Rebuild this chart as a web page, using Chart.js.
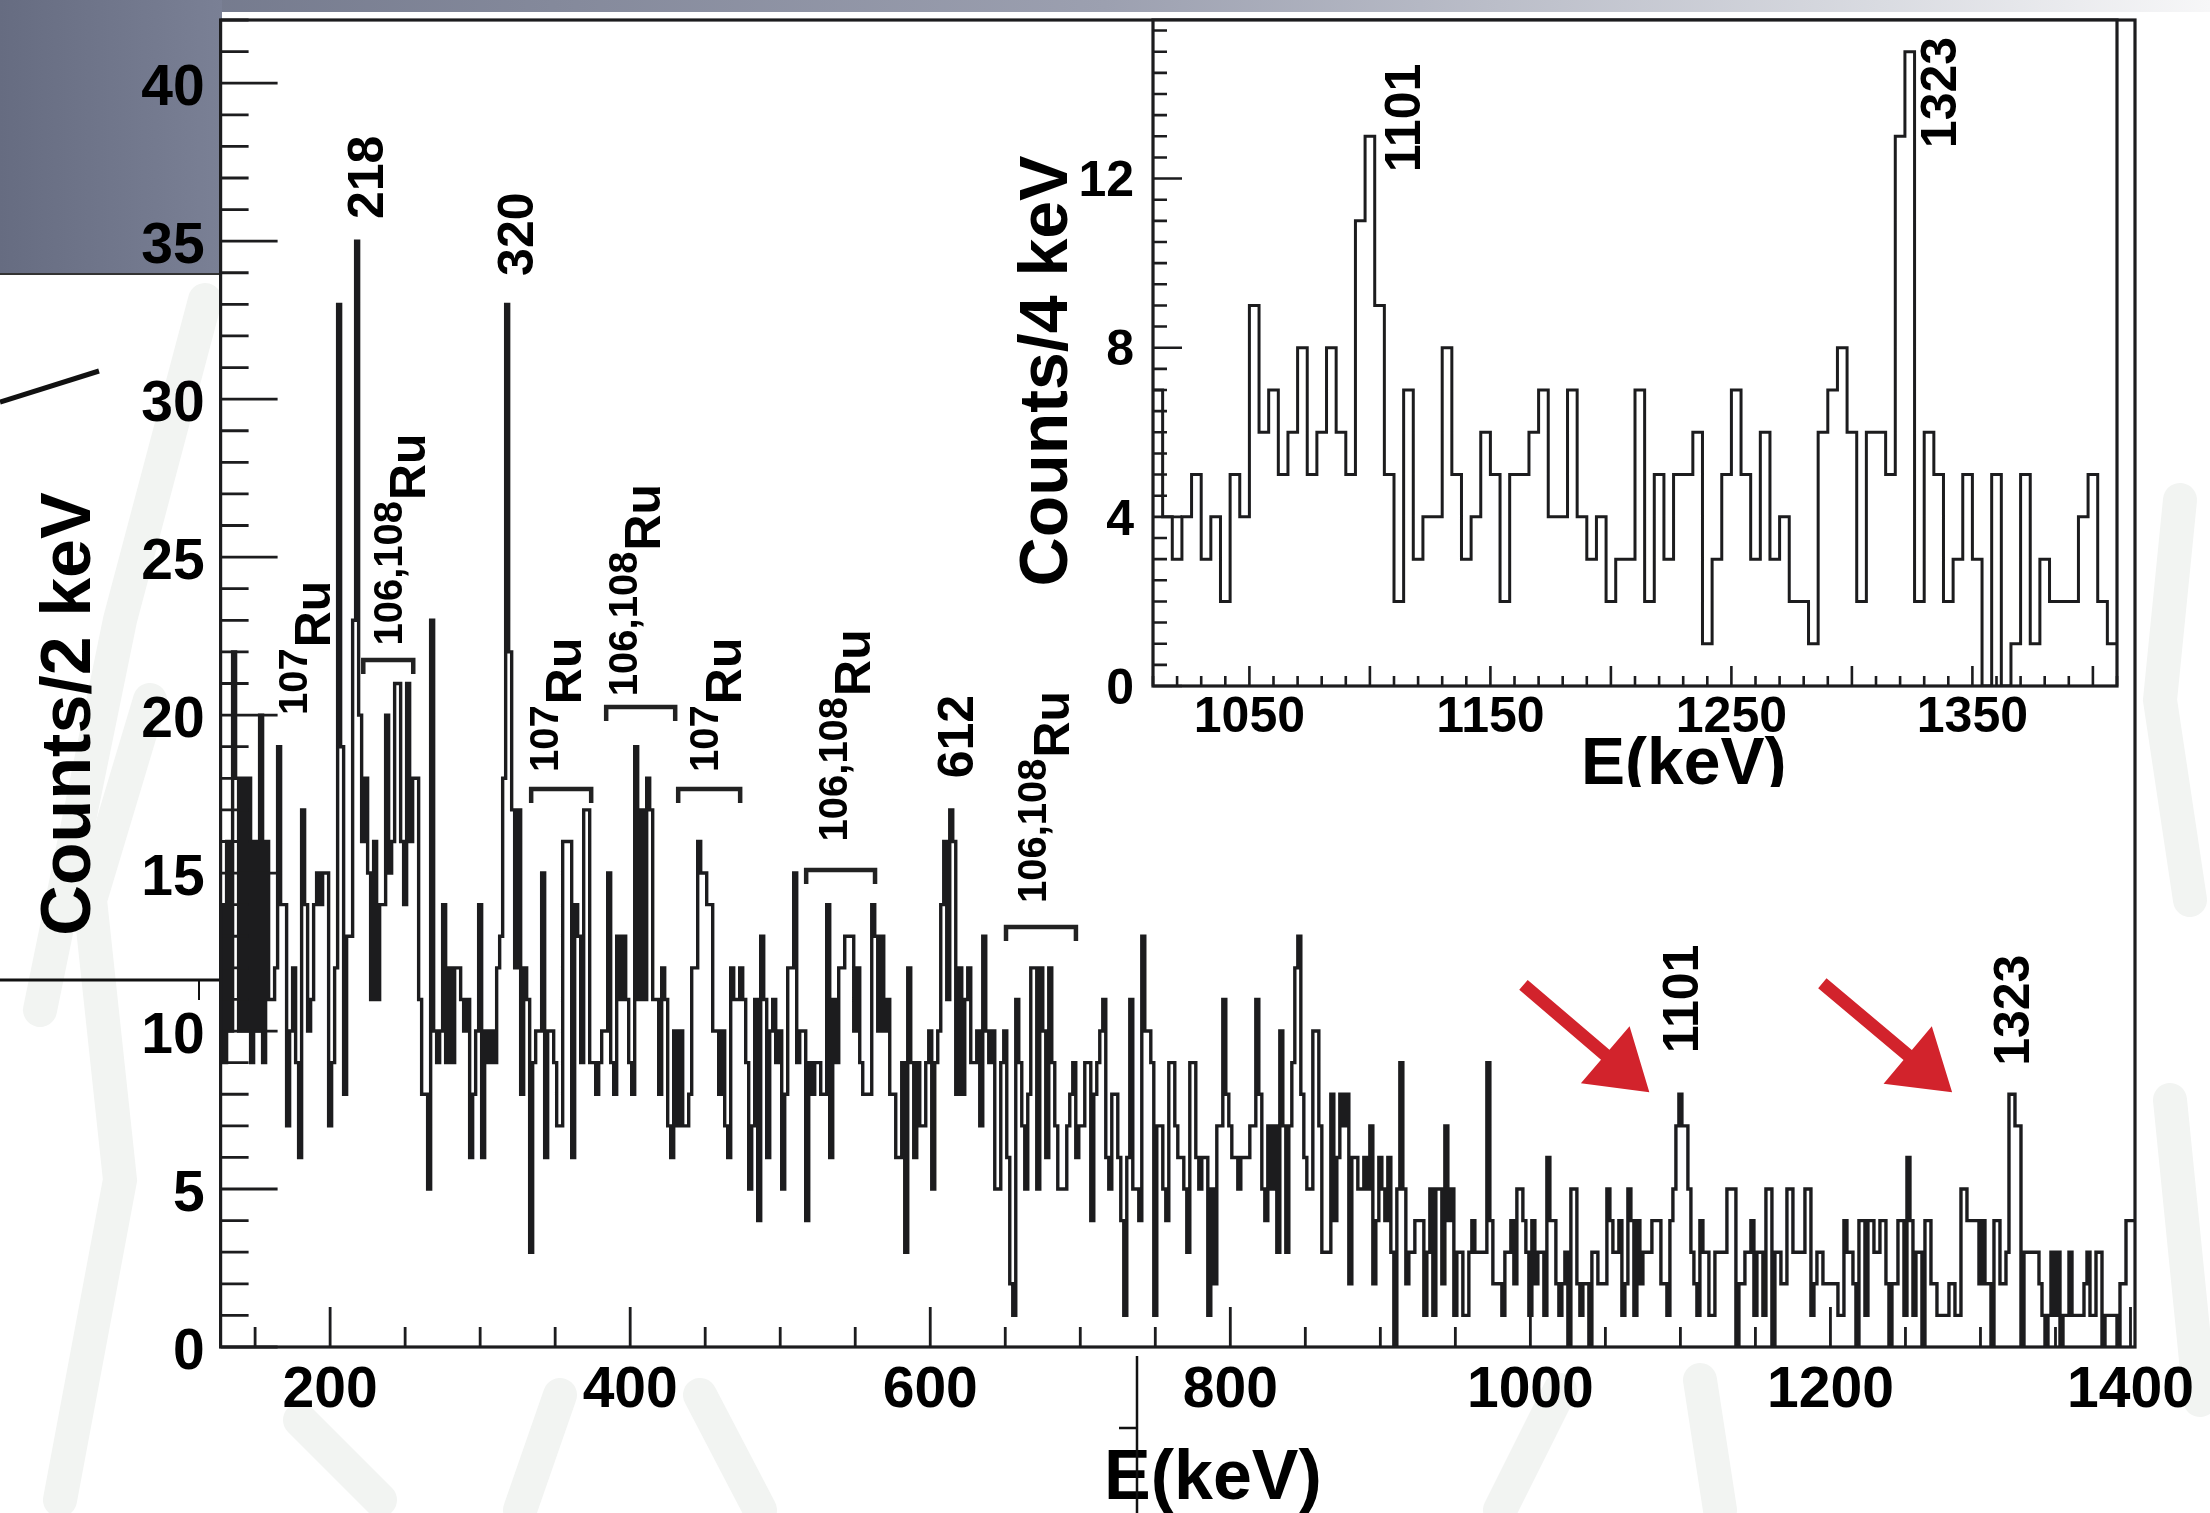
<!DOCTYPE html>
<html>
<head>
<meta charset="utf-8">
<script src="https://cdn.jsdelivr.net/npm/chart.js@4.4.0/dist/chart.umd.min.js"></script>
<style>
  html, body { margin: 0; padding: 0; background: #ffffff; }
  #wrap { position: relative; width: 2210px; height: 1513px; overflow: hidden; }
  #main { position: absolute; left: 0; top: 0; }
  #inset { position: absolute; left: 990px; top: 0; }
</style>
</head>
<body>
<div id="wrap">
  <canvas id="main" width="2210" height="1513"></canvas>
  <canvas id="inset" width="1140" height="787"></canvas>
</div>
<script>
const FONT = "'Liberation Sans', Arial, Helvetica, sans-serif";
const INK = '#1c1c1e';

// ---------------- main spectrum: counts per 2 keV ----------------
const mainBinStart = 127;
const mainBinWidth = 2;
const mainCounts = [
  14, 9, 16, 10, 22, 18, 10, 18, 10, 18,     // 127-147
  9, 16, 10, 20, 9, 16, 11, 11, 12, 19,
  14, 14, 7, 10, 12, 9, 6, 17, 14, 10,
  11, 14, 15, 14, 15, 15, 7, 9, 12, 33,
  19, 8, 13, 13, 23, 35, 20, 16, 18, 15,     // 207-227
  11, 16, 11, 14, 14, 20, 15, 16, 21, 21,
  16, 14, 21, 16, 18, 18, 11, 8, 8, 5,
  23, 10, 9, 10, 14, 9, 12, 9, 12, 12,
  11, 10, 11, 6, 8, 10, 14, 6, 10, 9,        // 287-307
  10, 9, 12, 13, 18, 33, 22, 17, 12, 17,
  8, 12, 11, 3, 9, 10, 10, 15, 6, 10,
  10, 9, 7, 7, 16, 16, 16, 6, 14, 13,
  9, 17, 17, 9, 9, 8, 9, 10, 10, 15,         // 367-387
  9, 8, 13, 11, 13, 11, 9, 8, 19, 11,
  17, 11, 18, 17, 11, 11, 8, 12, 11, 7,
  6, 10, 7, 10, 7, 7, 8, 12, 12, 16,
  15, 15, 14, 14, 10, 10, 8, 10, 7, 6,       // 447-467
  12, 11, 11, 12, 11, 9, 5, 7, 11, 4,
  13, 11, 6, 10, 11, 9, 10, 5, 8, 12,
  12, 15, 9, 10, 10, 4, 9, 8, 9, 9,
  8, 8, 14, 6, 11, 9, 12, 12, 13, 13,        // 527-547
  13, 10, 12, 9, 8, 8, 8, 14, 13, 10,
  13, 10, 11, 8, 8, 6, 6, 9, 3, 12,
  9, 6, 9, 7, 7, 9, 10, 5, 9, 10,
  14, 16, 11, 17, 16, 8, 12, 8, 11, 12,      // 607-627
  9, 9, 10, 7, 13, 10, 9, 10, 5, 5,
  9, 10, 6, 2, 1, 11, 9, 7, 5, 8,
  12, 12, 5, 12, 10, 6, 12, 9, 7, 5,
  5, 5, 7, 8, 9, 6, 7, 7, 9, 9,              // 687-707
  4, 8, 9, 10, 11, 6, 5, 8, 8, 6,
  4, 1, 6, 11, 5, 5, 4, 13, 10, 10,
  9, 1, 7, 7, 5, 4, 9, 9, 7, 6,
  6, 5, 3, 9, 9, 6, 5, 6, 6, 1,              // 767-787
  5, 2, 7, 7, 11, 8, 7, 6, 6, 5,
  6, 6, 6, 7, 7, 11, 8, 5, 4, 7,
  5, 7, 3, 10, 7, 3, 7, 9, 12, 13,
  8, 6, 5, 5, 10, 10, 7, 3, 3, 3,            // 847-867
  8, 4, 6, 8, 7, 8, 2, 6, 6, 5,
  5, 6, 5, 7, 2, 4, 6, 5, 4, 6,
  3, 0, 5, 9, 5, 2, 3, 3, 4, 4,
  4, 1, 3, 5, 1, 5, 5, 2, 7, 4,              // 927-947
  5, 1, 3, 3, 1, 1, 3, 4, 3, 3,
  3, 3, 9, 4, 2, 2, 2, 1, 3, 3,
  4, 2, 5, 5, 4, 3, 1, 4, 2, 3,
  3, 1, 6, 4, 4, 2, 1, 2, 3, 0,              // 1007-1027
  5, 5, 2, 1, 2, 2, 0, 3, 3, 2,
  2, 2, 5, 4, 3, 3, 4, 1, 2, 5,
  4, 1, 4, 2, 3, 3, 3, 4, 4, 4,
  2, 2, 1, 4, 5, 7, 8, 7, 7, 5,              // 1087-1107
  3, 2, 1, 4, 3, 3, 1, 1, 3, 3,
  3, 3, 5, 5, 5, 0, 2, 2, 3, 3,
  4, 1, 3, 3, 1, 5, 5, 0, 3, 3,
  2, 2, 5, 5, 3, 3, 3, 3, 5, 5,              // 1167-1187
  1, 2, 3, 3, 2, 2, 2, 2, 2, 1,
  1, 4, 3, 3, 2, 0, 4, 4, 1, 4,
  4, 3, 3, 4, 4, 2, 0, 2, 2, 4,
  4, 1, 6, 4, 1, 3, 3, 0, 4, 4,              // 1247-1267
  2, 2, 1, 1, 1, 1, 2, 2, 1, 1,
  5, 5, 4, 4, 4, 4, 2, 4, 2, 2,
  0, 4, 4, 2, 2, 3, 8, 8, 7, 7,
  0, 3, 3, 3, 3, 3, 2, 1, 0, 1,              // 1327-1347
  3, 1, 3, 0, 1, 1, 3, 1, 1, 1,
  1, 2, 3, 1, 1, 3, 3, 0, 1, 1,
  1, 1, 0, 2, 2, 4, 4, 4                     // 1387-1403
];
const mainXTicks = [200, 400, 600, 800, 1000, 1200, 1400];
const mainYTicks = [0, 5, 10, 15, 20, 25, 30, 35, 40];

// peak energies written above the lines: [text, keV, counts where the text starts]
const mainPeakLabels = [
  ['218', 223.5, 35.7],
  ['320', 323.4, 33.9],
  ['612', 616.5, 18.0],
  ['1101', 1099.5, 9.3],
  ['1323', 1320.7, 8.9]
];
// isotope tags: [mass numbers, keV of the "Ru" baseline, counts where the text starts]
const ruLabels = [
  ['107', 200.1, 20.0],
  ['106,108', 263.4, 22.2],
  ['107', 367.4, 18.2],
  ['106,108', 420.0, 20.6],
  ['107', 473.9, 18.2],
  ['106,108', 559.9, 16.0],
  ['106,108', 692.5, 14.05]
];
// brackets marking the tagged groups: [keV from, keV to, counts of the bar]
const ruBrackets = [
  [222.1, 255.4, 21.74],
  [334.0, 374.0, 17.66],
  [384.0, 430.0, 20.26],
  [432.0, 473.3, 17.66],
  [517.3, 563.2, 15.10],
  [650.5, 697.1, 13.29]
];
// red pointers: [keV tail, counts tail, keV tip, counts tip]
const pointerArrows = [
  [995.4, 11.46, 1079.3, 8.06],
  [1194.6, 11.51, 1281.1, 8.06]
];

// ---------------- inset: counts per 4 keV ----------------
const insetBinStart = 1010;
const insetBinWidth = 4;
const insetCounts = [
  7, 4, 3, 4, 5, 3, 4, 2, 5, 4,      // 1010-1050
  9, 6, 7, 5, 6, 8, 5, 6, 8, 6,
  5, 11, 13, 9, 5, 2, 7, 3, 4, 4,
  8, 5, 3, 4, 6, 5, 2, 5, 5, 6,
  7, 4, 4, 7, 4, 3, 4, 2, 3, 3,      // 1170-1210
  7, 2, 5, 3, 5, 5, 6, 1, 3, 5,
  7, 5, 3, 6, 3, 4, 2, 2, 1, 6,
  7, 8, 6, 2, 6, 6, 5, 13, 15, 2,
  6, 5, 2, 3, 5, 3, 0, 5, 0, 1,      // 1330-1370
  5, 1, 3, 2, 2, 2, 4, 5, 2, 1
];
const insetXTicks = [1050, 1150, 1250, 1350];
const insetYTicks = [0, 4, 8, 12];
const insetPeakLabels = [
  ['1101', 1113.3, 12.15],
  ['1323', 1335.7, 12.72]
];

// ---------------- helpers ----------------
function histogramPoints(start, width, counts) {
  const pts = counts.map((c, i) => ({ x: start + i * width, y: c }));
  pts.push({ x: start + counts.length * width, y: counts[counts.length - 1] });
  return pts;
}

function drawFrameAndTicks(chart, spec) {
  const { ctx, chartArea: a } = chart;
  const xs = chart.scales.x, ys = chart.scales.y;
  ctx.save();
  ctx.strokeStyle = INK;
  ctx.lineWidth = spec.tickWidth;
  ctx.beginPath();
  for (let i = Math.ceil(xs.min / spec.xMinor - 1e-9); i * spec.xMinor <= xs.max + 1e-9; i++) {
    const v = i * spec.xMinor;
    const major = Math.abs(v / spec.xMajor - Math.round(v / spec.xMajor)) < 1e-6;
    const px = xs.getPixelForValue(v);
    ctx.moveTo(px, a.bottom);
    ctx.lineTo(px, a.bottom - (major ? spec.xMajorLen : spec.xMinorLen));
  }
  for (let i = Math.ceil(ys.min / spec.yMinor - 1e-9); i * spec.yMinor <= ys.max + 1e-9; i++) {
    const v = i * spec.yMinor;
    const major = Math.abs(v / spec.yMajor - Math.round(v / spec.yMajor)) < 1e-6;
    const py = ys.getPixelForValue(v);
    ctx.moveTo(a.left, py);
    ctx.lineTo(a.left + (major ? spec.yMajorLen : spec.yMinorLen), py);
  }
  ctx.stroke();
  ctx.lineWidth = spec.frameWidth;
  ctx.strokeRect(a.left, a.top, a.right - a.left, a.bottom - a.top);
  ctx.restore();
}

// text running bottom-to-top, centred on a vertical line at cx, starting at y0
function verticalText(ctx, text, cx, y0, size) {
  ctx.save();
  ctx.font = 'bold ' + size + 'px ' + FONT;
  ctx.fillStyle = '#000';
  ctx.textBaseline = 'alphabetic';
  ctx.textAlign = 'left';
  ctx.translate(cx + 0.358 * size, y0);
  ctx.rotate(-Math.PI / 2);
  ctx.fillText(text, 0, 0);
  ctx.restore();
}

function ruTag(ctx, mass, baseX, y0) {
  ctx.save();
  ctx.fillStyle = '#000';
  ctx.textBaseline = 'alphabetic';
  ctx.translate(baseX, y0);
  ctx.rotate(-Math.PI / 2);
  ctx.font = 'bold 40px ' + FONT;
  ctx.fillText(mass, 0, -23);
  const w = ctx.measureText(mass).width;
  ctx.font = 'bold 50px ' + FONT;
  ctx.fillText('Ru', w + 1, 0);
  ctx.restore();
}

function bracket(ctx, x1, x2, y) {
  ctx.save();
  ctx.strokeStyle = '#222';
  ctx.lineWidth = 4.5;
  ctx.lineJoin = 'miter';
  ctx.beginPath();
  ctx.moveTo(x1, y + 14);
  ctx.lineTo(x1, y);
  ctx.lineTo(x2, y);
  ctx.lineTo(x2, y + 14);
  ctx.stroke();
  ctx.restore();
}

function arrow(ctx, x0, y0, x1, y1) {
  const shaft = 13, headLen = 58, headW = 75;
  const dx = x1 - x0, dy = y1 - y0, L = Math.hypot(dx, dy);
  const ux = dx / L, uy = dy / L, nx = -uy, ny = ux;
  const bx = x1 - ux * headLen, by = y1 - uy * headLen;
  ctx.save();
  ctx.fillStyle = '#d2232c';
  ctx.beginPath();
  ctx.moveTo(x0 + nx * shaft / 2, y0 + ny * shaft / 2);
  ctx.lineTo(bx + nx * shaft / 2, by + ny * shaft / 2);
  ctx.lineTo(bx + nx * headW / 2, by + ny * headW / 2);
  ctx.lineTo(x1, y1);
  ctx.lineTo(bx - nx * headW / 2, by - ny * headW / 2);
  ctx.lineTo(bx - nx * shaft / 2, by - ny * shaft / 2);
  ctx.lineTo(x0 - nx * shaft / 2, y0 - ny * shaft / 2);
  ctx.closePath();
  ctx.fill();
  ctx.restore();
}

function axisConfig(min, max, tickValues, opts) {
  return {
    type: 'linear',
    min: min,
    max: max,
    afterBuildTicks: (s) => { s.ticks = tickValues.map(v => ({ value: v })); },
    afterFit: opts.fit,
    grid: { display: false, drawTicks: false },
    border: { display: false },
    ticks: {
      autoSkip: false,
      maxRotation: 0,
      minRotation: 0,
      padding: opts.padding,
      labelOffset: opts.labelOffset || 0,
      color: '#000',
      font: { family: FONT, size: opts.size, weight: 'bold' },
      callback: (v) => String(v)
    }
  };
}

// ---------------- page backdrop (slide furniture) ----------------
const backdrop = {
  id: 'backdrop',
  beforeDraw(chart) {
    const c = chart.ctx, a = chart.chartArea;
    const W = chart.width, H = chart.height;
    c.save();
    c.fillStyle = '#ffffff';
    c.fillRect(0, 0, W, H);

    // faint watermark strokes
    c.strokeStyle = '#f2f4f2';
    c.lineCap = 'round';
    c.lineWidth = 34;
    [[[205, 300], [120, 620], [40, 1010]],
     [[150, 700], [90, 900], [120, 1180], [60, 1500]],
     [[300, 1420], [380, 1500]],
     [[560, 1395], [520, 1510]],
     [[700, 1395], [760, 1510]],
     [[1560, 1390], [1500, 1510]],
     [[1700, 1380], [1720, 1510]],
     [[2180, 500], [2160, 700], [2190, 900]],
     [[2170, 1100], [2200, 1400]]].forEach(path => {
      c.beginPath();
      c.moveTo(path[0][0], path[0][1]);
      for (let i = 1; i < path.length; i++) c.lineTo(path[i][0], path[i][1]);
      c.stroke();
    });

    // band across the top
    const band = c.createLinearGradient(0, 0, W, 0);
    band.addColorStop(0, '#6c7286');
    band.addColorStop(0.5, '#9ca0b0');
    band.addColorStop(0.85, '#d9dbe1');
    band.addColorStop(1, '#f7f7f8');
    c.fillStyle = band;
    c.fillRect(0, 0, W, 12);

    // slate block behind the upper axis labels
    const slate = c.createLinearGradient(0, 0, 222, 0);
    slate.addColorStop(0, '#666c81');
    slate.addColorStop(1, '#7a8095');
    c.fillStyle = slate;
    c.fillRect(0, 0, 222, 274);
    c.strokeStyle = '#333';
    c.lineCap = 'butt';
    c.lineWidth = 2;
    c.beginPath(); c.moveTo(0, 274); c.lineTo(221, 274); c.stroke();

    // slide rules
    c.strokeStyle = '#111';
    c.lineWidth = 5;
    c.beginPath(); c.moveTo(0, 402); c.lineTo(99, 371); c.stroke();
    c.lineWidth = 3;
    c.beginPath(); c.moveTo(0, 980); c.lineTo(221, 980); c.stroke();
    c.lineWidth = 2;
    c.beginPath(); c.moveTo(199, 980); c.lineTo(199, 1000); c.stroke();

    // frame interior
    c.fillStyle = '#ffffff';
    c.fillRect(a.left, a.top, a.right - a.left, a.bottom - a.top);
    c.restore();
  }
};

// ---------------- main chart ----------------
const mainDecor = {
  id: 'mainDecor',
  afterDatasetsDraw(chart) {
    drawFrameAndTicks(chart, {
      tickWidth: 2.8, frameWidth: 3.2,
      xMinor: 50, xMajor: 200, xMajorLen: 40, xMinorLen: 20,
      yMinor: 1, yMajor: 5, yMajorLen: 57, yMinorLen: 28
    });
    const c = chart.ctx, xs = chart.scales.x, ys = chart.scales.y;

    mainPeakLabels.forEach(([t, e, n]) => verticalText(c, t, xs.getPixelForValue(e), ys.getPixelForValue(n), 50));
    ruLabels.forEach(([m, e, n]) => ruTag(c, m, xs.getPixelForValue(e), ys.getPixelForValue(n)));
    ruBrackets.forEach(([e1, e2, n]) => bracket(c, xs.getPixelForValue(e1), xs.getPixelForValue(e2), ys.getPixelForValue(n)));
    pointerArrows.forEach(([e0, n0, e1, n1]) => arrow(c,
      xs.getPixelForValue(e0), ys.getPixelForValue(n0),
      xs.getPixelForValue(e1), ys.getPixelForValue(n1)));

    // axis titles
    c.save();
    c.fillStyle = '#000';
    c.font = 'bold 70px ' + FONT;
    c.textBaseline = 'alphabetic';
    c.textAlign = 'left';
    c.fillText('E(keV)', 1104, 1499);
    c.translate(90, 714);
    c.rotate(-Math.PI / 2);
    c.textAlign = 'center';
    c.fillText('Counts/2 keV', 0, 0);
    c.restore();

    // ruler mark below the axis
    c.save();
    c.strokeStyle = '#111';
    c.lineWidth = 2.5;
    c.beginPath();
    c.moveTo(1137, 1356); c.lineTo(1137, 1513);
    c.moveTo(1119, 1428); c.lineTo(1137, 1428);
    c.stroke();
    c.restore();
  }
};

new Chart(document.getElementById('main'), {
  type: 'line',
  data: {
    datasets: [{
      data: histogramPoints(mainBinStart, mainBinWidth, mainCounts),
      stepped: 'before',
      borderColor: INK,
      borderWidth: 3.4,
      borderJoinStyle: 'miter',
      pointRadius: 0,
      fill: false,
      tension: 0
    }]
  },
  options: {
    responsive: false,
    animation: false,
    devicePixelRatio: 1,
    layout: { padding: { left: 0, top: 20, right: 75, bottom: 0 } },
    plugins: { legend: { display: false }, tooltip: { enabled: false } },
    scales: {
      x: axisConfig(127, 1403, mainXTicks, {
        size: 57, padding: 10,
        fit: (s) => { s.height = 166; s.paddingLeft = 0; s.paddingRight = 0; }
      }),
      y: axisConfig(0, 42, mainYTicks, {
        size: 57, padding: 16, labelOffset: 6,
        fit: (s) => { s.width = 220.6; s.paddingTop = 0; s.paddingBottom = 0; }
      })
    }
  },
  plugins: [backdrop, mainDecor]
});

// ---------------- inset chart ----------------
const insetDecor = {
  id: 'insetDecor',
  beforeDraw(chart) {
    const c = chart.ctx, a = chart.chartArea;
    c.save();
    c.fillStyle = '#ffffff';
    c.fillRect(a.left, a.top, a.right - a.left, a.bottom - a.top);
    c.restore();
  },
  afterDatasetsDraw(chart) {
    drawFrameAndTicks(chart, {
      tickWidth: 2.6, frameWidth: 3.2,
      xMinor: 10, xMajor: 50, xMajorLen: 20, xMinorLen: 10,
      yMinor: 0.5, yMajor: 4, yMajorLen: 29, yMinorLen: 14
    });
    const c = chart.ctx, xs = chart.scales.x, ys = chart.scales.y;
    insetPeakLabels.forEach(([t, e, n]) => verticalText(c, t, xs.getPixelForValue(e), ys.getPixelForValue(n), 50));

    c.save();
    c.fillStyle = '#000';
    c.font = 'bold 66px ' + FONT;
    c.textBaseline = 'alphabetic';
    c.textAlign = 'left';
    c.fillText('E(keV)', 591, 784);
    c.font = 'bold 68px ' + FONT;
    c.translate(77, 371);
    c.rotate(-Math.PI / 2);
    c.textAlign = 'center';
    c.fillText('Counts/4 keV', 0, 0);
    c.restore();
  }
};

new Chart(document.getElementById('inset'), {
  type: 'line',
  data: {
    datasets: [{
      data: histogramPoints(insetBinStart, insetBinWidth, insetCounts),
      stepped: 'before',
      borderColor: INK,
      borderWidth: 3,
      borderJoinStyle: 'miter',
      pointRadius: 0,
      fill: false,
      tension: 0
    }]
  },
  options: {
    responsive: false,
    animation: false,
    devicePixelRatio: 1,
    layout: { padding: { left: 0, top: 20, right: 13, bottom: 0 } },
    plugins: { legend: { display: false }, tooltip: { enabled: false } },
    scales: {
      x: axisConfig(1010, 1410, insetXTicks, {
        size: 50, padding: 2,
        fit: (s) => { s.height = 101; s.paddingLeft = 0; s.paddingRight = 0; }
      }),
      y: axisConfig(0, 15.75, insetYTicks, {
        size: 50, padding: 19, labelOffset: 4,
        fit: (s) => { s.width = 163; s.paddingTop = 0; s.paddingBottom = 0; }
      })
    }
  },
  plugins: [insetDecor]
});
</script>
</body>
</html>
